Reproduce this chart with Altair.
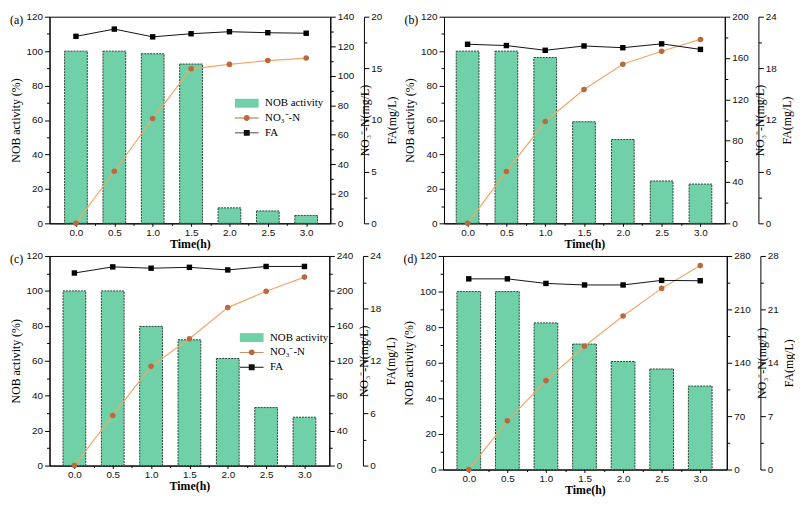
import altair as alt
import pandas as pd

times = [0.0, 0.5, 1.0, 1.5, 2.0, 2.5, 3.0]
series_names = ["NOB activity", "NO₃⁻-N", "FA"]

nob_a = [100, 100, 98.5, 92.5, 9.0, 7.2, 4.6]
no3_a = [0, 35.3, 71.0, 104.7, 107.7, 110.3, 112.0]
fa_a = [18.1, 18.8, 18.05, 18.35, 18.55, 18.45, 18.4]

nob_b = [100, 100, 96.3, 59.0, 48.7, 24.6, 22.8]
no3_b = [0, 50.2, 98.6, 129.6, 154.0, 166.6, 178.0]
fa_b = [20.8, 20.65, 20.1, 20.6, 20.4, 20.85, 20.2]

nob_c = [100, 100, 79.7, 72.0, 61.3, 33.2, 27.7]
no3_c = [0, 57.4, 113.6, 145.2, 180.9, 199.6, 215.8]
fa_c = [22.05, 22.75, 22.6, 22.7, 22.4, 22.8, 22.8]

nob_d = [100, 100, 82.4, 70.5, 60.7, 56.5, 46.9]
no3_d = [0, 64.0, 116.6, 161.7, 201.3, 237.5, 267.4]
fa_d = [25.0, 25.0, 24.4, 24.2, 24.2, 24.8, 24.75]

NO3_TITLE = "NO₃⁻-N(mg/L)"
SERIF = "Liberation Serif"
SANS = "Liberation Sans"

BAR_FILL = "#70d1a9"
BAR_STROKE = "#2b4036"
NO3_LINE = "#f2a66a"
NO3_MARK = "#b8693d"
FA_COLOR = "#111111"

RECT_PATH = "M-2.4,-0.9H2.4V0.9H-2.4Z"
CIRC_PATH = "M-2.4,-0.1H2.4V0.1H-2.4Z M0.6,0A0.6,0.6,0,1,1,-0.6,0A0.6,0.6,0,1,1,0.6,0Z"
SQ_PATH = "M-2.4,-0.1H2.4V0.1H-2.4Z M-0.6,-0.6H0.6V0.6H-0.6Z"


def frange(lo, hi, step):
    out = []
    v = lo
    while v <= hi + 1e-9:
        out.append(round(v, 4))
        v += step
    return out


def y_axis(title, vmax, major, orient, offset=0, right=False, title_pad=4):
    minor = major / 2
    vals = frange(0, vmax, minor)
    cond = f"abs(datum.value / {major} - round(datum.value / {major})) < 1e-6"
    kw = dict(
        title=title,
        orient=orient,
        values=vals,
        labelExpr=f"{cond} ? datum.label : ''",
        tickSize={"condition": {"test": cond, "value": 5}, "value": 3},
        grid=False,
        titlePadding=title_pad,
    )
    if offset:
        kw["offset"] = offset
    if right:
        kw["titleAngle"] = 270
        kw["titleBaseline"] = "top"
    return alt.Axis(**kw)


XCOND = "abs(datum.value / 0.5 - round(datum.value / 0.5)) < 1e-6"


def panel(letter, nob, no3, fa, no3_max, no3_step, fa_max, fa_step,
          w, h, xdom, bar_w, leg_x, leg_y):
    df = pd.DataFrame({"t": times, "nob": nob, "no3": no3, "fa": fa})
    xscale = alt.Scale(domain=xdom, nice=False, zero=False)
    xaxis = alt.Axis(
        title="Time(h)",
        values=frange(0, 3, 0.25),
        labelExpr=f"{XCOND} ? format(datum.value, '.1f') : ''",
        tickSize={"condition": {"test": XCOND, "value": 3}, "value": 2},
        grid=False,
        titleFontWeight="bold",
        titlePadding=1,
        labelPadding=1,
    )
    base = alt.Chart(df)
    bars = base.mark_bar(
        size=bar_w, fill=BAR_FILL, stroke=BAR_STROKE, strokeWidth=1, strokeDash=[2, 1]
    ).encode(
        x=alt.X("t:Q", scale=xscale, axis=xaxis),
        y=alt.Y("nob:Q", scale=alt.Scale(domain=[0, 120], nice=False),
                axis=y_axis("NOB activity (%)", 120, 20, "left")),
    )
    no3_layer = base.mark_line(
        color=NO3_LINE, strokeWidth=1.2,
        point=alt.OverlayMarkDef(shape="circle", size=32, filled=True, color=NO3_MARK),
    ).encode(
        x=alt.X("t:Q", scale=xscale, axis=xaxis),
        y=alt.Y("no3:Q", scale=alt.Scale(domain=[0, no3_max], nice=False),
                axis=y_axis(NO3_TITLE, no3_max, no3_step, "right", right=True, title_pad=6)),
    )
    fa_layer = base.mark_line(
        color=FA_COLOR, strokeWidth=1,
        point=alt.OverlayMarkDef(shape="square", size=30, filled=True, color="#000000"),
    ).encode(
        x=alt.X("t:Q", scale=xscale, axis=xaxis),
        y=alt.Y("fa:Q", scale=alt.Scale(domain=[0, fa_max], nice=False),
                axis=y_axis("FA(mg/L)", fa_max, fa_step, "right", offset=34, right=True, title_pad=5)),
    )
    leg_df = pd.DataFrame({"s": series_names})
    legend = alt.Legend(
        title=None, orient="none", legendX=leg_x, legendY=leg_y,
        labelFont=SERIF, labelFontSize=11, labelColor="#000",
        symbolSize=100, symbolOpacity=1, symbolStrokeWidth=0,
        labelOffset=13, rowPadding=3,
    )
    leg_layer = alt.Chart(leg_df).mark_point(filled=True, opacity=0, size=1).encode(
        x=alt.value(0), y=alt.value(0),
        shape=alt.Shape("s:N", sort=series_names,
                        scale=alt.Scale(domain=series_names, range=[RECT_PATH, CIRC_PATH, SQ_PATH]),
                        legend=legend),
        color=alt.Color("s:N", sort=series_names,
                        scale=alt.Scale(domain=series_names, range=[BAR_FILL, NO3_MARK, FA_COLOR]),
                        legend=legend),
    )
    lab_df = pd.DataFrame({"lab": [f"({letter})"]})
    lab_layer = alt.Chart(lab_df).mark_text(
        font=SERIF, fontSize=12, align="left", baseline="middle", color="#000"
    ).encode(x=alt.value(-40), y=alt.value(3), text="lab:N")
    return alt.layer(bars, no3_layer, fa_layer, leg_layer, lab_layer).resolve_scale(
        y="independent"
    ).properties(width=w, height=h)


pa = panel("a", nob_a, no3_a, fa_a, 140, 20, 20, 5, 284, 209, [-0.28, 3.25], 23, 194, 82)
pb = panel("b", nob_b, no3_b, fa_b, 200, 40, 24, 6, 284, 209, [-0.24, 3.25], 23, 200, 76)
pc = panel("c", nob_c, no3_c, fa_c, 240, 40, 24, 6, 283, 212, [-0.26, 3.26], 23, 199, 77)
pd_ = panel("d", nob_d, no3_d, fa_d, 280, 70, 28, 7, 287, 216, [-0.27, 3.28], 24, 205, 63)

chart = alt.vconcat(
    alt.hconcat(pa, pb, spacing=4),
    alt.hconcat(pc, pd_, spacing=4),
    spacing=0,
).resolve_scale(color="independent", shape="independent").properties(
    padding={"left": 0, "top": 0, "right": 0, "bottom": 0},
    background="white",
).configure_view(stroke="#000", strokeWidth=1).configure_axis(
    labelFont=SANS, labelFontSize=10, labelColor="#111",
    titleFont=SERIF, titleFontSize=12, titleFontWeight="normal", titleColor="#000",
    domainColor="#000", tickColor="#000", domainWidth=1, tickWidth=1, labelPadding=2,
)

chart.save("out.html", embed_options={"renderer": "svg", "actions": False})
